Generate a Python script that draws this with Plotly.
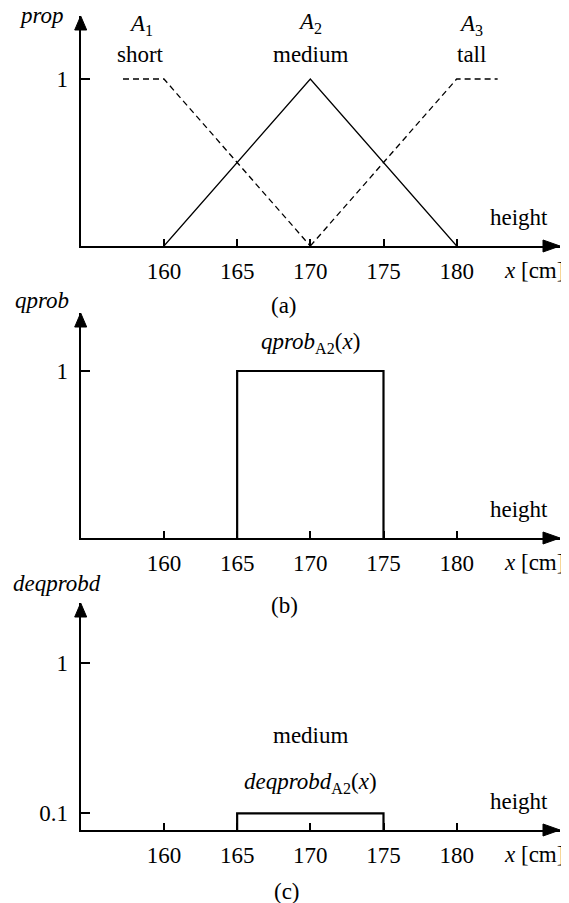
import plotly.graph_objects as go

# ---------------- data ----------------
x_ticks = [160, 165, 170, 175, 180]
x_tick_labels = ["160", "165", "170", "175", "180"]

# (a) membership functions
short_x = [157.2, 160, 170]
short_y = [1, 1, 0]
medium_x = [160, 170, 180]
medium_y = [0, 1, 0]
tall_x = [170, 180, 182.8]
tall_y = [0, 1, 1]

# (b) qprob of A2
qprob_x = [165, 165, 175, 175]
qprob_y = [0, 1, 1, 0]

# (c) deqprobd of A2
deq_x = [165, 165, 175, 175]
deq_y = [0, 0.1, 0.1, 0]

y_ticks_a = [1]
y_ticks_b = [1]
y_ticks_c = [0.1, 1]

# ---------------- layout helpers ----------------
W, H = 569, 903
OFF = 8  # page body margin
FONT = "Liberation Serif, Times New Roman, Times, serif"
FS = 23


def px(x):
    return (x - OFF) / W


def py(y):
    return 1 - (y - OFF) / H


X_LEFT_PX, X_RIGHT_PX = 80.7, 560
XR = [154.31, 187.06]
# panels: (top px, baseline px)
panels = [(16, 246), (313, 538), (603, 830)]
PPU = 167.0  # pixels per unit on y

fig = go.Figure()

line_thin = dict(color="black", width=1.3)
line_dash = dict(color="black", width=1.3, dash="6px,4px")
line_box = dict(color="black", width=2.2)

fig.add_trace(go.Scatter(x=short_x, y=short_y, mode="lines", line=line_dash,
                         xaxis="x", yaxis="y", showlegend=False, hoverinfo="skip"))
fig.add_trace(go.Scatter(x=medium_x, y=medium_y, mode="lines", line=line_thin,
                         xaxis="x", yaxis="y", showlegend=False, hoverinfo="skip"))
fig.add_trace(go.Scatter(x=tall_x, y=tall_y, mode="lines", line=line_dash,
                         xaxis="x", yaxis="y", showlegend=False, hoverinfo="skip"))
fig.add_trace(go.Scatter(x=qprob_x, y=qprob_y, mode="lines", line=line_box,
                         xaxis="x2", yaxis="y2", showlegend=False, hoverinfo="skip"))
fig.add_trace(go.Scatter(x=deq_x, y=deq_y, mode="lines", line=line_box,
                         xaxis="x3", yaxis="y3", showlegend=False, hoverinfo="skip"))

tickfont = dict(family=FONT, size=FS, color="black")
axis_common = dict(showgrid=False, zeroline=False, showline=True, linecolor="black",
                   linewidth=2, ticks="inside", tickcolor="black", tickwidth=1.5,
                   tickfont=tickfont, fixedrange=True)

layout = dict(width=W, height=H, margin=dict(l=0, r=0, t=0, b=0),
              paper_bgcolor="white", plot_bgcolor="white", showlegend=False,
              font=dict(family=FONT, size=FS, color="black"))

yticks_list = [y_ticks_a, y_ticks_b, y_ticks_c]
shapes = []
for i, (top, base) in enumerate(panels):
    sx = "" if i == 0 else str(i + 1)
    ymax = (base - top) / PPU
    layout["xaxis" + sx] = dict(axis_common, domain=[px(X_LEFT_PX), px(X_RIGHT_PX)],
                                range=XR, anchor="y" + sx, tickvals=x_ticks,
                                ticktext=x_tick_labels, ticklen=7, ticklabelstandoff=3)
    yt = yticks_list[i]
    layout["yaxis" + sx] = dict(axis_common, domain=[py(base), py(top)],
                                range=[0, ymax], anchor="x" + sx, tickvals=yt,
                                ticktext=[("%g" % v) for v in yt], ticklen=9,
                                ticklabelstandoff=6)
    # arrow heads
    ax = X_LEFT_PX
    shapes.append(dict(type="path", xref="paper", yref="paper",
                       path="M %f,%f L %f,%f L %f,%f Z" % (
                           px(ax), py(top), px(ax - 6), py(top + 14), px(ax + 6), py(top + 14)),
                       fillcolor="black", line=dict(color="black", width=1)))
    shapes.append(dict(type="path", xref="paper", yref="paper",
                       path="M %f,%f L %f,%f L %f,%f Z" % (
                           px(X_RIGHT_PX), py(base), px(X_RIGHT_PX - 17), py(base - 6),
                           px(X_RIGHT_PX - 17), py(base + 6)),
                       fillcolor="black", line=dict(color="black", width=1)))

layout["shapes"] = shapes

ann = []


def text(x, y, s, xref="paper", yref="paper", xanchor="center"):
    ann.append(dict(x=x, y=y, xref=xref, yref=yref, text=s, showarrow=False,
                    xanchor=xanchor, yanchor="middle",
                    font=dict(family=FONT, size=FS, color="black")))


# axis titles
text(px(41), py(15), "<i>prop</i>")
text(px(42), py(300), "<i>qprob</i>")
text(px(57), py(583), "<i>deqprobd</i>")

# x-axis titles and "height"
for top, base in panels:
    text(px(519), py(base - 29), "height")
    text(px(534), py(base + 24), "<i>x</i> [cm]")

# captions
text(px(284), py(305), "(a)")
text(px(284), py(605), "(b)")
text(px(287), py(891), "(c)")

# (a) curve labels
text(158.4, (246 - 25) / PPU, "<i>A</i><sub>1</sub>", "x", "y")
text(158.4, (246 - 55) / PPU, "short", "x", "y")
text(170, (246 - 23) / PPU, "<i>A</i><sub>2</sub>", "x", "y")
text(170, (246 - 55) / PPU, "medium", "x", "y")
text(181.0, (246 - 25) / PPU, "<i>A</i><sub>3</sub>", "x", "y")
text(181.0, (246 - 55) / PPU, "tall", "x", "y")

# (b)
text(170, (538 - 343) / PPU, "<i>qprob</i><sub>A2</sub>(<i>x</i>)", "x2", "y2")

# (c)
text(170, (830 - 735) / PPU, "medium", "x3", "y3")
text(170, (830 - 783) / PPU, "<i>deqprobd</i><sub>A2</sub>(<i>x</i>)", "x3", "y3")

layout["annotations"] = ann
fig.update_layout(**layout)

fig.write_html("out.html")
